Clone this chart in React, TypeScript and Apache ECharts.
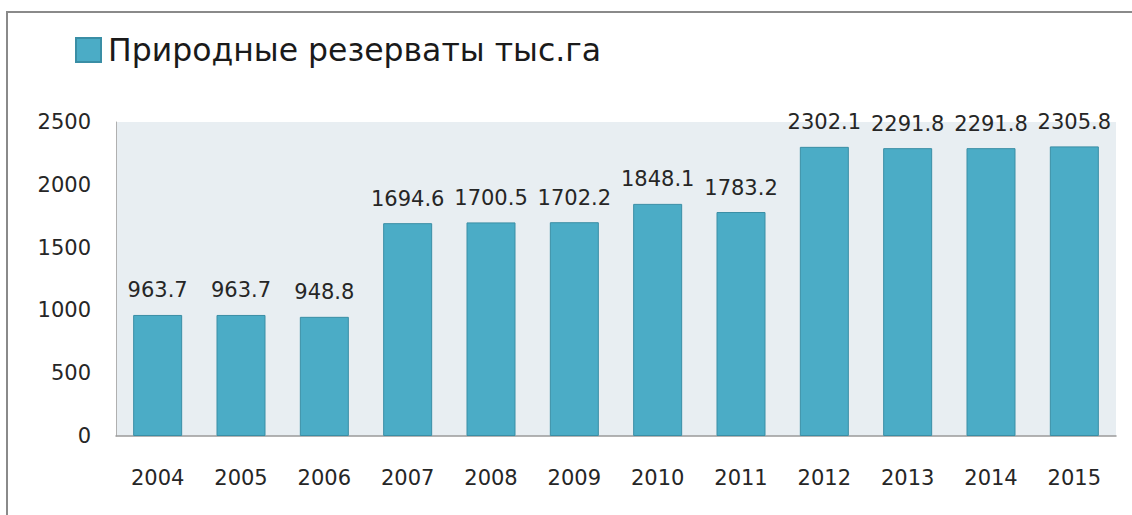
import React, { useEffect, useRef } from "react";
import * as echarts from "echarts";

const years = ["2004", "2005", "2006", "2007", "2008", "2009", "2010", "2011", "2012", "2013", "2014", "2015"];
const reserves = [963.7, 963.7, 948.8, 1694.6, 1700.5, 1702.2, 1848.1, 1783.2, 2302.1, 2291.8, 2291.8, 2305.8];
const seriesName = "Природные резерваты тыс.га";

export default function App() {
  const ref = useRef<HTMLDivElement>(null);
  useEffect(() => {
    if (!ref.current) return;
    const chart = echarts.init(ref.current, undefined, { renderer: "svg" });
    const font = "'DejaVu Sans', sans-serif";
    chart.setOption({
      animation: false,
      backgroundColor: "#ffffff",
      graphic: [
        {
          type: "rect",
          shape: { x: 7, y: 12, width: 1300, height: 700 },
          style: { fill: "none", stroke: "#8a8a8a", lineWidth: 2 },
          silent: true,
        },
      ],
      legend: {
        show: true,
        left: 70,
        top: 27,
        itemWidth: 25,
        itemHeight: 24,
        itemGap: 10,
        data: [{ name: seriesName, icon: "rect" }],
        textStyle: {
          fontFamily: font,
          fontSize: 31.5,
          color: "#1a1a1a",
          padding: [0, 0, 0, 2],
          lineHeight: 36,
        },
      },
      grid: {
        left: 116,
        right: 16,
        top: 122,
        bottom: 79,
        show: true,
        backgroundColor: "#E8EEF2",
        borderWidth: 0,
      },
      xAxis: {
        type: "category",
        data: years,
        axisLine: { show: true, lineStyle: { color: "#9a9a9a", width: 1.5 } },
        axisTick: { show: false },
        axisLabel: { fontFamily: font, fontSize: 21, color: "#262626", margin: 31 },
      },
      yAxis: {
        type: "value",
        min: 0,
        max: 2500,
        interval: 500,
        axisLine: { show: true, lineStyle: { color: "#b0b0b0", width: 1 } },
        axisTick: { show: false },
        splitLine: { show: false },
        axisLabel: {
          fontFamily: font,
          fontSize: 21,
          color: "#262626",
          margin: 25,
          formatter: (v: number) => String(v),
        },
      },
      series: [
        {
          name: seriesName,
          type: "bar",
          data: reserves,
          barWidth: 49,
          itemStyle: { color: "#4BACC6", borderColor: "#3A8EA5", borderWidth: 1 },
          label: {
            show: true,
            position: "top",
            distance: 14,
            fontFamily: font,
            fontSize: 21,
            color: "#262626",
            formatter: (p: any) => p.value.toFixed(1),
          },
        },
      ],
    });
    return () => chart.dispose();
  }, []);
  return (
    <div
      ref={ref}
      style={{ position: "absolute", left: 0, top: 0, width: 1132, height: 515 }}
    />
  );
}
